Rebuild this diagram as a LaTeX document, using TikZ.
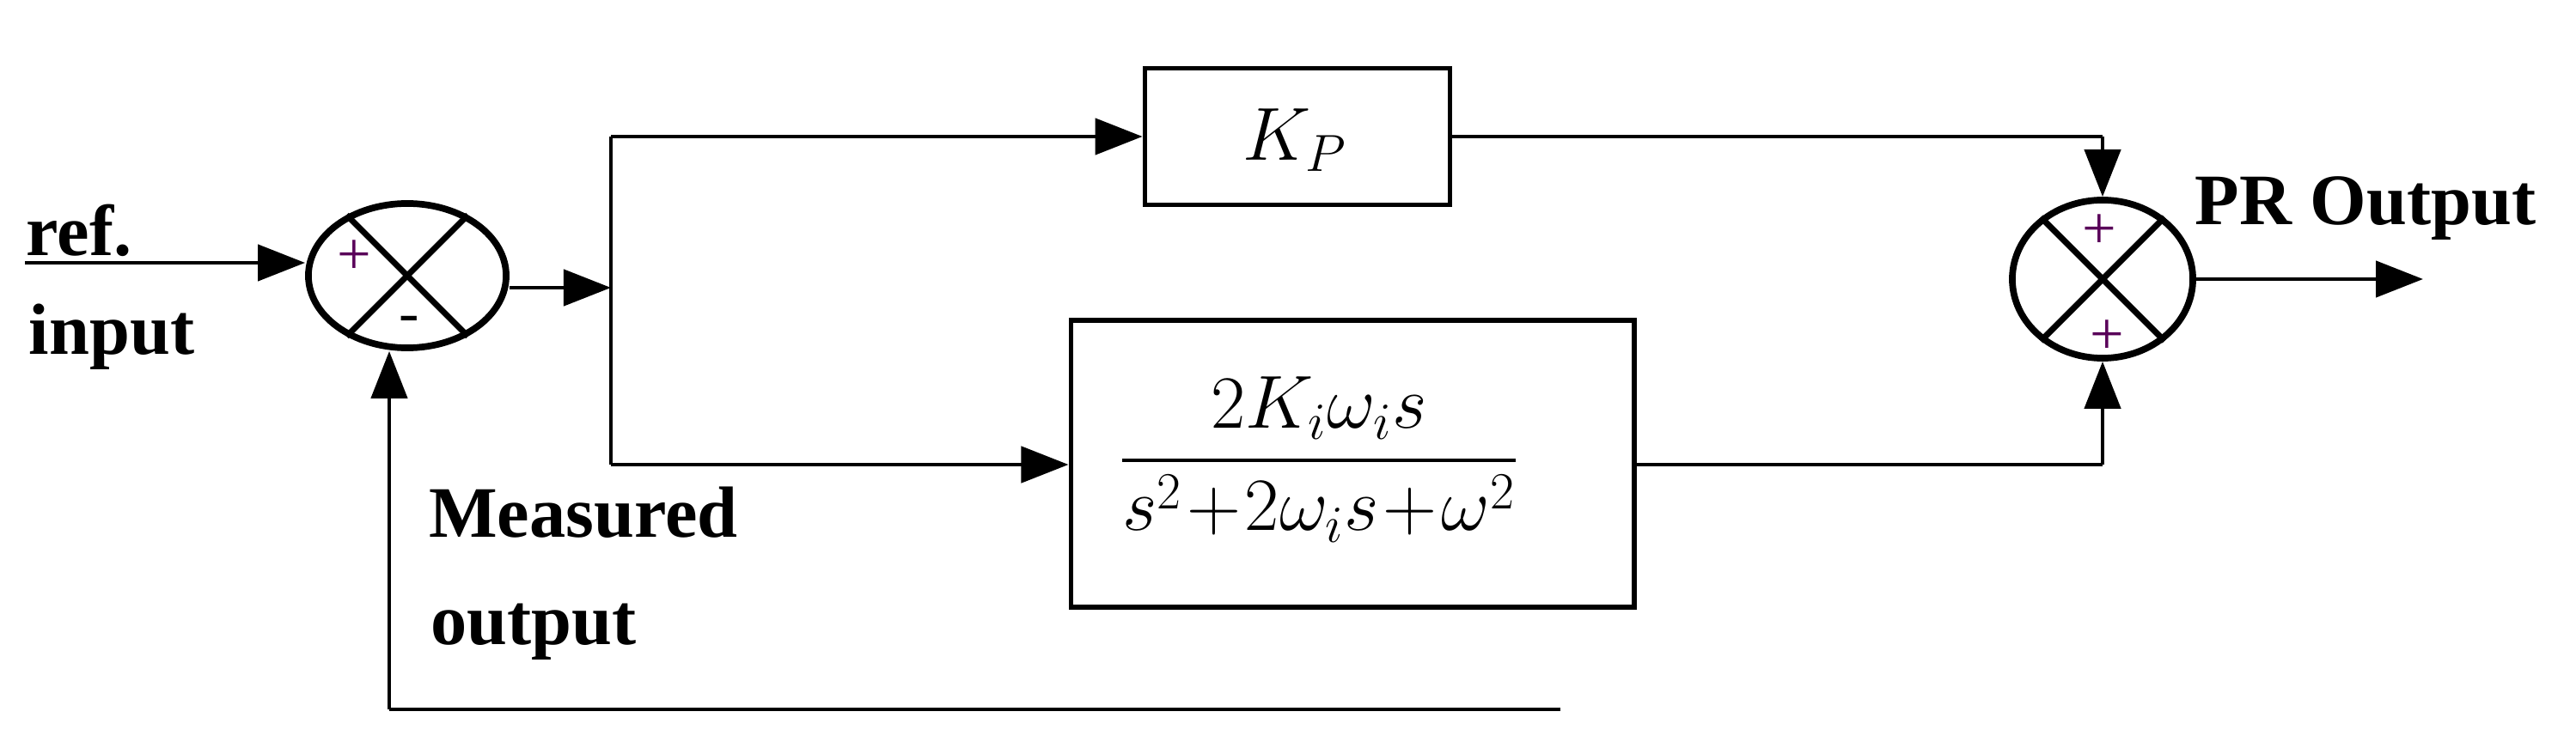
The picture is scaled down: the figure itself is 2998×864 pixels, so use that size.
\documentclass[tikz,border=0pt]{standalone}
\usepackage{fontspec}
\usepackage{amsmath}
\setmainfont{Liberation Serif}
\usetikzlibrary{arrows.meta,shapes.geometric}
\begin{document}
\begin{tikzpicture}[x=0.01cm,y=-0.01cm,
  wire/.style={line width=1.3pt},
  arr/.style={wire,-{Triangle[length=0.55cm,width=0.42cm]}},
  blk/.style={draw,line width=1.6pt,inner sep=0pt},
  sumj/.style={draw,ellipse,line width=2.2pt,inner sep=0pt},
  lbl/.style={font=\fontsize{24}{28}\selectfont\bfseries},
  sgn/.style={font=\fontsize{20}{22}\selectfont}]
\useasboundingbox (0,0) rectangle (2998,864);
% summing junctions
\node[sumj,minimum width=2.30cm,minimum height=1.68cm] (s1) at (474,321) {};
\node[sumj,minimum width=2.10cm,minimum height=1.84cm] (s2) at (2447,325) {};
\foreach \s in {s1,s2}{
  \draw[line width=2pt] (\s.45) -- (\s.225);
  \draw[line width=2pt] (\s.135) -- (\s.315);
}
\node[sgn,text=violet!70!black] (p1) at (412,300) {+};
\node[sgn] (m1) at (476,378) {-};
\node[sgn,text=violet!70!black] (p2) at (2443,270) {+};
\node[sgn,text=violet!70!black] (p3) at (2452,393) {+};
% blocks
\node[blk,minimum width=3.55cm,minimum height=1.59cm] (kp) at (1510,159) {};
\node (kpt) at (1507,163) {\fontsize{26}{30}\selectfont$K_P$};
\node[blk,minimum width=6.55cm,minimum height=3.34cm] (gi) at (1574,540) {};
\node (git) at (1535,535) {\fontsize{24}{30}\selectfont$\dfrac{2K_i\omega_i s}{s^2\!+\!2\omega_i s\!+\!\omega^2}$};
% coordinates
\coordinate (in) at (29,306);
\coordinate (br) at (711,335);
\coordinate (bt) at (711,159);
\coordinate (bb) at (711,541);
\coordinate (ko) at (2447,159);
\coordinate (go) at (2447,541);
\coordinate (out) at (2820,325);
\coordinate (fb1) at (1816,826);
\coordinate (fb2) at (453,826);
% connectors
\draw[arr] (in) -- (in -| s1.west);
\draw[arr] (s1.east |- br) -- (br);
\draw[wire] (bt) -- (bb);
\draw[arr] (bt) -- (kp.west |- bt);
\draw[arr] (bb) -- (gi.west |- bb);
\draw[wire] (kp.east |- ko) -- (ko);
\draw[arr] (ko) -- (s2.north);
\draw[wire] (gi.east |- go) -- (go);
\draw[arr] (go) -- (s2.south);
\draw[arr] (s2.east) -- (out);
\draw[wire] (fb1) -- (fb2);
\draw[arr] (fb2) -- (fb2 |- s1.south);
% labels
\node[lbl] (l1) at (92,268) {ref.};
\node[lbl] (l2) at (130,392) {input};
\node[lbl] (l3) at (679,597) {Measured};
\node[lbl] (l4) at (621,736) {output};
\node[lbl] (l5) at (2753,243) {PR Output};
\end{tikzpicture}
\end{document}
